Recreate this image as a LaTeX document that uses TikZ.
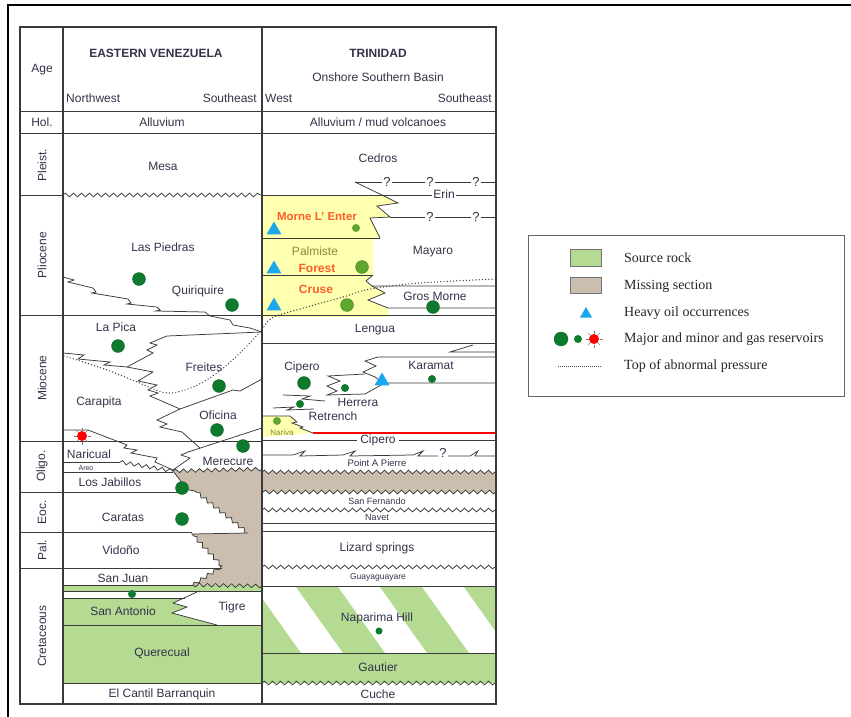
\documentclass[tikz,border=0pt]{standalone}
\usepackage{fontspec}
\setmainfont{Liberation Sans}
\newfontfamily\legfont{Liberation Serif}
\usetikzlibrary{decorations.pathmorphing,shapes.geometric}
\definecolor{src}{HTML}{B5DB93}
\definecolor{miss}{HTML}{CCBEAE}
\definecolor{ylw}{HTML}{FFFFB0}
\definecolor{dgreen}{HTML}{0E7A2E}
\definecolor{lgreen}{HTML}{5EA62E}
\definecolor{hblue}{HTML}{1AA7EC}
\definecolor{orng}{HTML}{FF5B2B}
\definecolor{olive}{HTML}{8C8A3A}
\definecolor{ink}{HTML}{3A3A3A}
\definecolor{lab}{HTML}{33334A}
\tikzset{
  tb/.style={draw=ink, line width=1.1pt},
  ln/.style={draw=ink, line width=0.75pt},
  zz/.style={draw=ink, line width=0.75pt, line join=miter},
  wav/.style={draw=ink, line width=0.75pt, decorate, decoration={snake, amplitude=1.8pt, segment length=8pt}},
  snk/.style={decoration={snake, amplitude=1.8pt, segment length=8pt}},
  lbl/.style={font=\fontsize{12}{14}\selectfont, text=lab, inner sep=0pt},
  hd/.style={font=\fontsize{12}{14}\selectfont\bfseries, text=lab, inner sep=0pt},
  sm/.style={font=\fontsize{9}{10}\selectfont, text=lab, inner sep=0pt},
  qm/.style={font=\fontsize{13}{14}\selectfont, text=lab, fill=white, inner xsep=1.5pt, inner ysep=0pt},
  bigdot/.style={circle, fill=dgreen, draw=dgreen!80!black, line width=0.3pt, minimum size=13pt, inner sep=0pt},
  smdot/.style={circle, fill=dgreen, minimum size=8pt, inner sep=0pt},
  hvy/.style={regular polygon, regular polygon sides=3, fill=hblue, minimum size=17pt, inner sep=0pt},
  leg/.style={font=\legfont\fontsize{14}{16}\selectfont, text=black!85, anchor=west, inner sep=0pt},
  dots/.style={draw=ink, line width=1.4pt, dash pattern=on 0pt off 3.2pt, line cap=round},
  redstar/.style={circle, fill=red, minimum size=10pt, inner sep=0pt},
}
\begin{document}
\begin{tikzpicture}[x=1pt,y=-1pt]
\useasboundingbox (0,0) rectangle (851,717);
% outer frame
\draw[line width=2.2pt] (7,5) -- (851,5);
\draw[line width=2.2pt] (8,4) -- (8,717);

% ---------- fills ----------
% source rock EV
\fill[src] (63,585) rectangle (262,683);
\fill[white] (63,591) -- (262,591) -- (262,625) -- (217,625) -- (172,613) -- (187,607) -- (173,603) -- (185,598) -- (63,598) -- cycle;
% Naparima stripes
\begin{scope}
\clip (262,587) rectangle (496,653);
\foreach \t in {128,212,296,380,464} \fill[src] (\t,587) -- (\t+42,587) -- (\t+89,653) -- (\t+47,653) -- cycle;
\end{scope}
\fill[src] (262,653) rectangle (496,683);
% yellow Trinidad
\fill[ylw] (262,196) -- (384,196) -- (398,203) -- (377,206) -- (390,217) -- (370,218) -- (380,238) -- (373,238) -- (373,275) -- (366,281) -- (372,286) -- (385,293) -- (368,300) -- (388,308) -- (388,317) -- (262,317) -- cycle;
\fill[ylw] (262,416) -- (290,416) -- (297,422) -- (292,423) -- (303,427) -- (300,428) -- (313,433) -- (262,437) -- cycle;
% missing section
\filldraw[fill=miss, ln] (173,471) decorate[snk]{-- (262,469)} -- (262,586) decorate[snk]{-- (193,585)} decorate[snk]{-- (222,566)} decorate[snk]{-- (192,534)} -- (248,533) decorate[snk]{-- (195,491)} -- (184,489) -- (180,480) -- cycle;
\filldraw[fill=miss, ln] (262,472) decorate[snk]{-- (496,472)} -- (496,492) decorate[snk]{-- (262,492)} -- cycle;

% ---------- grid ----------
\draw[ln] (20,111) -- (496,111);
\draw[ln] (20,133) -- (496,133);
\draw[ln] (20,195) -- (63,195);
\draw[wav] (63,195) -- (262,195);
\draw[ln] (262,195) -- (496,195);
\draw[ln] (20,315) -- (496,315);
\draw[ln] (20,441) -- (262,441);
\draw[ln] (20,492) -- (63,492);
\draw[ln] (20,532) -- (63,532);
\draw[ln] (20,568) -- (63,568);

% ---------- Eastern Venezuela lines ----------
\draw[zz] (63,277) -- (74,280) -- (68,282) -- (93,288) -- (96,292) -- (92,293) -- (128,299) -- (131,303) -- (127,304) -- (157,307) -- (160,310) -- (156,311) -- (205,312) -- (210,316) -- (230,320) -- (233,325) -- (250,328) -- (262,332);
\draw[zz] (262,332) -- (167,336) -- (150,343) -- (157,345) -- (147,350) -- (153,353) -- (127,367);
\draw[zz] (63,353) -- (84,355) -- (78,359) -- (110,362) -- (104,365) -- (127,367);
\draw[zz] (127,367) -- (153,372) -- (138,381) -- (157,385) -- (148,390) -- (158,393) -- (150,396) -- (180,409);
\draw[zz] (180,409) -- (233,390) -- (240,391) -- (262,379);
\draw[zz] (180,409) -- (157,420) -- (167,424) -- (160,427) -- (182,432) -- (200,448);
\draw[zz] (262,428) -- (188,452) -- (181,455) -- (190,458) -- (173,470);
\draw[zz] (63,430) -- (88,430) -- (127,445) -- (124,448) -- (137,450) -- (131,453) -- (157,458) -- (155,462) -- (173,470);
\draw[ln] (63,462) -- (120,462);
\draw[wav] (120,462) -- (173,471);
\draw[ln] (63,472) -- (173,472);
\draw[ln] (63,492) -- (185,492);
\draw[ln] (63,532) -- (192,532);
\draw[ln] (63,568) -- (222,568);
\draw[ln] (63,585) -- (193,585);
\draw[ln] (63,591) -- (262,591);
\draw[ln] (63,598) -- (185,598);
\draw[zz] (197,592) -- (173,603) -- (187,607) -- (172,613) -- (217,625);
\draw[ln] (63,625) -- (262,625);
\draw[ln] (63,683) -- (262,683);

% ---------- Trinidad lines ----------
\draw[zz] (355,182) -- (496,182);
\draw[zz] (355,182) -- (384,196) -- (398,203) -- (377,206) -- (390,217) -- (370,218) -- (380,238);
\draw[ln] (390,217) -- (496,217);
\draw[ln] (262,238) -- (380,238);
\draw[ln] (262,275) -- (373,275);
\draw[zz] (373,275) -- (366,281) -- (372,286) -- (496,286);
\draw[zz] (372,286) -- (385,293) -- (368,300) -- (388,308) -- (496,308);
\draw[ln] (262,343) -- (496,343);
\draw[zz] (473,345) -- (450,352) -- (496,352);
\draw[zz] (496,357) -- (378,357) -- (365,361) -- (376,366) -- (363,372) -- (375,377) -- (383,383) -- (496,383);
\draw[zz] (365,374) -- (328,376) -- (340,381) -- (327,386) -- (337,391) -- (327,395) -- (365,394) -- (383,384);
\draw[zz] (283,395) -- (310,396) -- (302,399) -- (325,401);
\draw[zz] (273,408) -- (294,407) -- (287,410) -- (314,409);
\draw[zz] (262,416) -- (290,416) -- (297,422) -- (292,423) -- (303,427) -- (300,428) -- (313,433);
\draw[ln] (262,440) -- (496,440);
\draw[zz] (262,455) -- (293,455) -- (305,451) -- (300,456) -- (343,455) -- (355,451) -- (350,456) -- (413,455) -- (423,451) -- (418,456) -- (470,456) -- (478,451) -- (475,456) -- (496,456);
\draw[wav] (262,510) -- (496,510);
\draw[ln] (262,523) -- (496,523);
\draw[ln] (262,531) -- (496,531);
\draw[wav] (262,567) -- (496,567);
\draw[ln] (262,586) -- (496,586);
\draw[ln] (262,653) -- (496,653);
\draw[wav] (262,683) -- (496,683);

% abnormal pressure
\draw[dots] plot[smooth, tension=0.55] coordinates {(64,356) (80,361) (110,371) (137,382) (167,393) (193,387) (217,373) (240,353) (260,332) (272,318) (300,309) (343,297) (370,289) (420,283) (496,279)};

% ---------- markers ----------
\node[bigdot] (e1) at (139,279) {};
\node[bigdot] (e2) at (232,305) {};
\node[bigdot] (e3) at (118,346) {};
\node[bigdot] (e4) at (219,386) {};
\node[bigdot] (e5) at (217,430) {};
\node[bigdot] (e6) at (243,446) {};
\node[bigdot] (e7) at (182,488) {};
\node[bigdot] (e8) at (182,519) {};
\node[smdot] (e9) at (132,594) {};
\node[redstar] (gs) at (82,436) {};
\foreach \a in {0,45,...,315} \draw[gray, line width=0.6pt] (gs.center) ++(\a:5.5) -- ++(\a:3);
\node[smdot, fill=lgreen] (t1) at (356,228) {};
\node[bigdot, fill=lgreen, draw=lgreen!80!black] (t2) at (362,267) {};
\node[bigdot, fill=lgreen, draw=lgreen!80!black] (t3) at (347,305) {};
\node[bigdot] (t4) at (433,307) {};
\node[bigdot] (t5) at (304,383) {};
\node[smdot] (t6) at (345,388) {};
\node[smdot] (t7) at (432,379) {};
\node[smdot] (t8) at (300,404) {};
\node[smdot, fill=lgreen] (t9) at (277,421) {};
\node[smdot, minimum size=7pt] (t10) at (379,631) {};
\node[hvy] (h1) at (274,230) {};
\node[hvy] (h2) at (274,269) {};
\node[hvy] (h3) at (274,306) {};
\node[hvy] (h4) at (382,381) {};

% ---------- texts: header ----------
\node[lbl] (age) at (42,70) {Age};
\node[hd] (ev) at (156,53) {EASTERN VENEZUELA};
\node[lbl, anchor=west] (nw) at (66,98) {Northwest};
\node[lbl, anchor=east] (se1) at (257,98) {Southeast};
\node[hd] (tr) at (378,53) {TRINIDAD};
\node[lbl] (osb) at (378,77) {Onshore Southern Basin};
\node[lbl, anchor=west] (we) at (265,98) {West};
\node[lbl, anchor=east] (se2) at (492,98) {Southeast};
\node[lbl] (hol) at (42,122) {Hol.};
\node[lbl] (al1) at (162,122) {Alluvium};
\node[lbl] (al2) at (378,122) {Alluvium / mud volcanoes};
% age column
\node[lbl, rotate=90] (a1) at (42,165) {Pleist.};
\node[lbl, rotate=90] (a2) at (42,255) {Pliocene};
\node[lbl, rotate=90] (a3) at (42,378) {Miocene};
\node[lbl, rotate=90] (a4) at (42,466) {Oligo.};
\node[lbl, rotate=90] (a5) at (42,512) {Eoc.};
\node[lbl, rotate=90] (a6) at (42,550) {Pal.};
\node[lbl, rotate=90] (a7) at (42,636) {Cretaceous};
% EV
\node[lbl] (mesa) at (163,166) {Mesa};
\node[lbl] (lp) at (163,247) {Las Piedras};
\node[lbl] (qu) at (198,291) {Quiriquire};
\node[lbl] (lpi) at (116,327) {La Pica};
\node[lbl] (fr) at (204,367) {Freites};
\node[lbl] (ca) at (99,402) {Carapita};
\node[lbl] (of) at (218,415) {Oficina};
\node[lbl] (na) at (89,454) {Naricual};
\node[lbl] (me) at (228,461) {Merecure};
\node[font=\fontsize{7}{8}\selectfont, text=lab, inner sep=0pt] (ar) at (86,468) {Areo};
\node[lbl] (lj) at (110,482) {Los Jabillos};
\node[lbl] (crt) at (123,517) {Caratas};
\node[lbl] (vi) at (121,550) {Vidoño};
\node[lbl] (sj) at (123,578) {San Juan};
\node[lbl] (sa) at (123,611) {San Antonio};
\node[lbl] (ti) at (232,607) {Tigre};
\node[lbl] (qr) at (162,653) {Querecual};
\node[lbl] (ecb) at (162,694) {El Cantil Barranquin};
% Trinidad
\node[lbl] (ce) at (378,158) {Cedros};
\node[qm] (q1) at (387,182) {?};
\node[qm] (q2) at (430,182) {?};
\node[qm] (q3) at (476,182) {?};
\node[qm] (q4) at (430,217) {?};
\node[qm] (q5) at (476,217) {?};
\node[lbl, fill=white, inner xsep=1.5pt] (er) at (444,194) {Erin};
\node[font=\fontsize{11.5}{13}\selectfont\bfseries, text=orng, inner sep=0pt] (mle) at (317,217) {Morne L' Enter};
\node[lbl, text=olive] (pa) at (315,251) {Palmiste};
\node[font=\fontsize{12}{14}\selectfont\bfseries, text=orng, inner sep=0pt] (fo) at (317,268) {Forest};
\node[font=\fontsize{12}{14}\selectfont\bfseries, text=orng, inner sep=0pt] (cr) at (316,289) {Cruse};
\node[lbl] (ma) at (433,252) {Mayaro};
\node[lbl] (gm) at (435,296) {Gros Morne};
\node[lbl] (le) at (375,330) {Lengua};
\node[lbl] (ci1) at (302,367) {Cipero};
\node[lbl] (ka) at (431,365) {Karamat};
\node[lbl] (he) at (358,402) {Herrera};
\node[lbl] (re) at (333,416) {Retrench};
\node[font=\fontsize{8}{9}\selectfont, text=olive, inner sep=0pt] (nv) at (282,433) {Nariva};
\node[lbl, fill=white, inner xsep=3pt, inner ysep=0pt] (ci2) at (378,440) {Cipero};
\draw[red, line width=1.5pt] (313,433) -- (496,433);
\node[qm] (q6) at (443,453) {?};
\node[font=\fontsize{9.5}{10}\selectfont, text=lab, inner sep=0pt] (pap) at (377,463) {Point A Pierre};
\node[sm] (sf) at (377,501) {San Fernando};
\node[sm] (nav) at (377,517) {Navet};
\node[lbl] (ls) at (377,548) {Lizard springs};
\node[font=\fontsize{8.5}{9}\selectfont, text=lab, inner sep=0pt] (gu) at (378,577) {Guayaguayare};
\node[lbl] (nh) at (377,618) {Naparima Hill};
\node[lbl] (ga) at (378,667) {Gautier};
\node[lbl] (cu) at (378,694) {Cuche};

% table frame
\draw[tb] (63,27) -- (63,704);
\draw[tb] (262,27) -- (262,704);
\draw[tb] (20,27) rectangle (496,704);

% ---------- legend ----------
\draw[draw=black!60, line width=1pt] (528,235) rectangle (844,396);
\draw[fill=src, draw=black!55, line width=0.8pt] (570,249) rectangle (601,266);
\draw[fill=miss, draw=black!55, line width=0.8pt] (570,277) rectangle (601,293);
\node[hvy, minimum size=14pt] (lh) at (586,314) {};
\node[bigdot, minimum size=14pt] (lb) at (561,339) {};
\node[smdot, minimum size=8pt] (ls2) at (578,339) {};
\node[redstar] (lst) at (594,339) {};
\foreach \a in {0,45,...,315} \draw[gray, line width=0.6pt] (lst.center) ++(\a:5.5) -- ++(\a:3);
\coordinate (pd1) at (558,366);
\coordinate (pd2) at (602,366);
\draw[draw=black!70, line width=0.8pt, dash pattern=on 0.8pt off 1.2pt] (pd1) -- (pd2);
\node[leg] (l1) at (624,258) {Source rock};
\node[leg] (l2) at (624,286) {Missing section};
\node[leg] (l3) at (624,313) {Heavy oil occurrences};
\node[leg] (l4) at (624,339) {Major and minor and gas reservoirs};
\node[leg] (l5) at (624,366) {Top of abnormal pressure};
\end{tikzpicture}
\end{document}
